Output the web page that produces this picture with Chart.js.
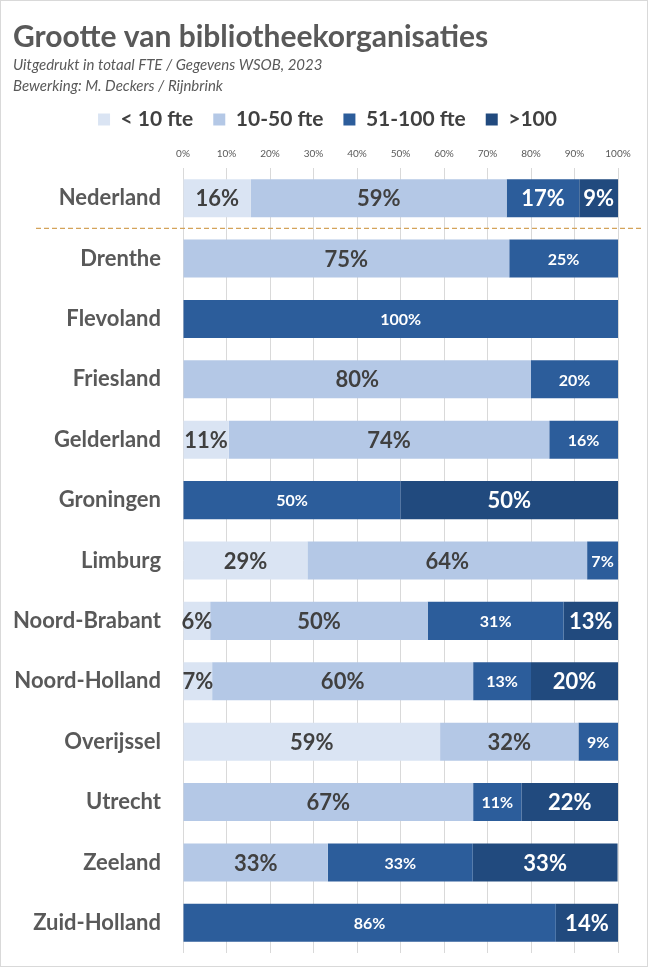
<!DOCTYPE html>
<html lang="nl">
<head>
<meta charset="utf-8">
<title>Grootte van bibliotheekorganisaties</title>
<script src="https://cdn.jsdelivr.net/npm/chart.js@4.4.1/dist/chart.umd.min.js"></script>
<style>
    html, body { margin: 0; padding: 0; background: #fff; }
    #wrap { width: 646px; height: 965px; border: 1px solid #d9d9d9; position: relative; }
</style>
</head>
<body>
<div id="wrap"><canvas id="grootteChart"></canvas></div>
<script>
//====================================
// DATOS
//====================================
const provincies = ['Nederland', 'Drenthe', 'Flevoland', 'Friesland', 'Gelderland', 'Groningen', 'Limburg',
    'Noord-Brabant', 'Noord-Holland', 'Overijssel', 'Utrecht', 'Zeeland', 'Zuid-Holland'];

const klein = [15.6, 0, 0, 0, 10.5, 0, 28.6, 6.25, 6.7, 59.1, 0, 0, 0];          // < 10 fte
const middel = [58.8, 75, 0, 80, 73.7, 0, 64.3, 50, 60, 31.8, 66.7, 33.3, 0];    // 10-50 fte
const groot = [16.7, 25, 100, 20, 15.8, 50, 7.1, 31.25, 13.3, 9.1, 11.1, 33.3, 85.7]; // 51-100 fte
const zeerGroot = [8.9, 0, 0, 0, 0, 50, 0, 12.5, 20, 0, 22.2, 33.3, 14.3];       // >100

const reeksNamen = ['< 10 fte', '10-50 fte', '51-100 fte', '>100'];
const xTicks = [0, 10, 20, 30, 40, 50, 60, 70, 80, 90, 100];

//====================================
// ESTILOS
//====================================
const kleuren = ['#DAE4F3', '#B4C8E6', '#2C5D9B', '#214A7E'];
const labelKleuren = ['#404040', '#404040', '#ffffff', '#ffffff'];
const labelGrootte = [22, 22, 16, 22];
const tekstGrijs = '#595959';
const fontFamily = 'Lato, "Open Sans", sans-serif';

// Etiquetas de datos dentro de cada segmento
const segmentLabels = {
    id: 'segmentLabels',
    afterDatasetsDraw(chart) {
        const ctx = chart.ctx;
        ctx.save();
        ctx.textAlign = 'center';
        ctx.textBaseline = 'middle';
        chart.data.datasets.forEach((ds, i) => {
            const meta = chart.getDatasetMeta(i);
            meta.data.forEach((bar, j) => {
                const v = ds.data[j];
                if (!v) return;
                let size = labelGrootte[i];
                if (j === 0) size = 22; // Nederland siempre grande
                ctx.font = 'bold ' + size + 'px ' + fontFamily;
                ctx.fillStyle = labelKleuren[i];
                const x = (bar.x + bar.base) / 2;
                ctx.fillText(Math.round(v) + '%', x, bar.y + 1);
            });
        });
        ctx.restore();
    }
};

// Línea discontinua entre Nederland y las provincias
const scheidingslijn = {
    id: 'scheidingslijn',
    afterDraw(chart) {
        const y = chart.scales.y;
        const yPos = (y.getPixelForValue(0) + y.getPixelForValue(1)) / 2;
        const ctx = chart.ctx;
        ctx.save();
        ctx.strokeStyle = '#D4A35A';
        ctx.lineWidth = 1.3;
        ctx.setLineDash([5, 3]);
        ctx.beginPath();
        ctx.moveTo(35, yPos);
        ctx.lineTo(chart.width - 4, yPos);
        ctx.stroke();
        ctx.restore();
    }
};

// Leyenda un poco a la derecha, como en el original
const legendaVerschuiving = {
    id: 'legendaVerschuiving',
    afterLayout(chart) {
        if (chart.legend) {
            chart.legend.left += 12;
            chart.legend.right += 12;
        }
    }
};

//====================================
// GRAFICO
//====================================
document.addEventListener('DOMContentLoaded', function () {
    const ctxGrootte = document.getElementById('grootteChart');
    const series = [klein, middel, groot, zeerGroot];

    const dataGrootte = {
        labels: provincies,
        datasets: series.map((reeks, i) => ({
            label: reeksNamen[i],
            data: reeks,
            backgroundColor: kleuren[i],
            borderWidth: 0,
            barPercentage: 0.63,
            categoryPercentage: 1
        }))
    };

    const configGrootte = {
        type: 'bar',
        data: dataGrootte,
        options: {
            indexAxis: 'y',
            responsive: true,
            maintainAspectRatio: false,
            animation: false,
            layout: { padding: { left: 12, right: 29, bottom: 13, top: 0 } },
            plugins: {
                title: {
                    display: true,
                    text: 'Grootte van bibliotheekorganisaties',
                    align: 'start',
                    color: tekstGrijs,
                    font: { family: fontFamily, size: 30, weight: 'bold' },
                    padding: { top: 18, bottom: 0 }
                },
                subtitle: {
                    display: true,
                    text: ['Uitgedrukt in totaal FTE / Gegevens WSOB, 2023', 'Bewerking: M. Deckers / Rijnbrink'],
                    align: 'start',
                    color: tekstGrijs,
                    font: { family: fontFamily, size: 15, style: 'italic', lineHeight: 1.4 },
                    padding: { bottom: -8 }
                },
                legend: {
                    position: 'top',
                    labels: {
                        color: '#404040',
                        boxWidth: 12,
                        boxHeight: 12,
                        padding: 20,
                        font: { family: fontFamily, size: 21, weight: 'bold' }
                    }
                },
                tooltip: { enabled: false }
            },
            scales: {
                x: {
                    position: 'top',
                    stacked: true,
                    min: 0,
                    max: 100,
                    afterBuildTicks(axis) {
                        axis.ticks = xTicks.map(v => ({ value: v }));
                    },
                    ticks: {
                        color: tekstGrijs,
                        padding: 8,
                        font: { family: fontFamily, size: 10 },
                        callback: v => v + '%'
                    },
                    grid: { color: '#d9d9d9', tickLength: 0, drawTicks: false },
                    border: { display: false }
                },
                y: {
                    stacked: true,
                    afterFit(axis) {
                        axis.width = 170;
                        axis.paddingTop = 0;
                        axis.paddingBottom = 0;
                    },
                    ticks: {
                        color: tekstGrijs,
                        padding: 22,
                        font: { family: fontFamily, size: 22, weight: 'bold' }
                    },
                    grid: { display: false, drawTicks: false },
                    border: { display: false }
                }
            }
        },
        plugins: [segmentLabels, scheidingslijn, legendaVerschuiving]
    };

    new Chart(ctxGrootte, configGrootte);
});
</script>
</body>
</html>
